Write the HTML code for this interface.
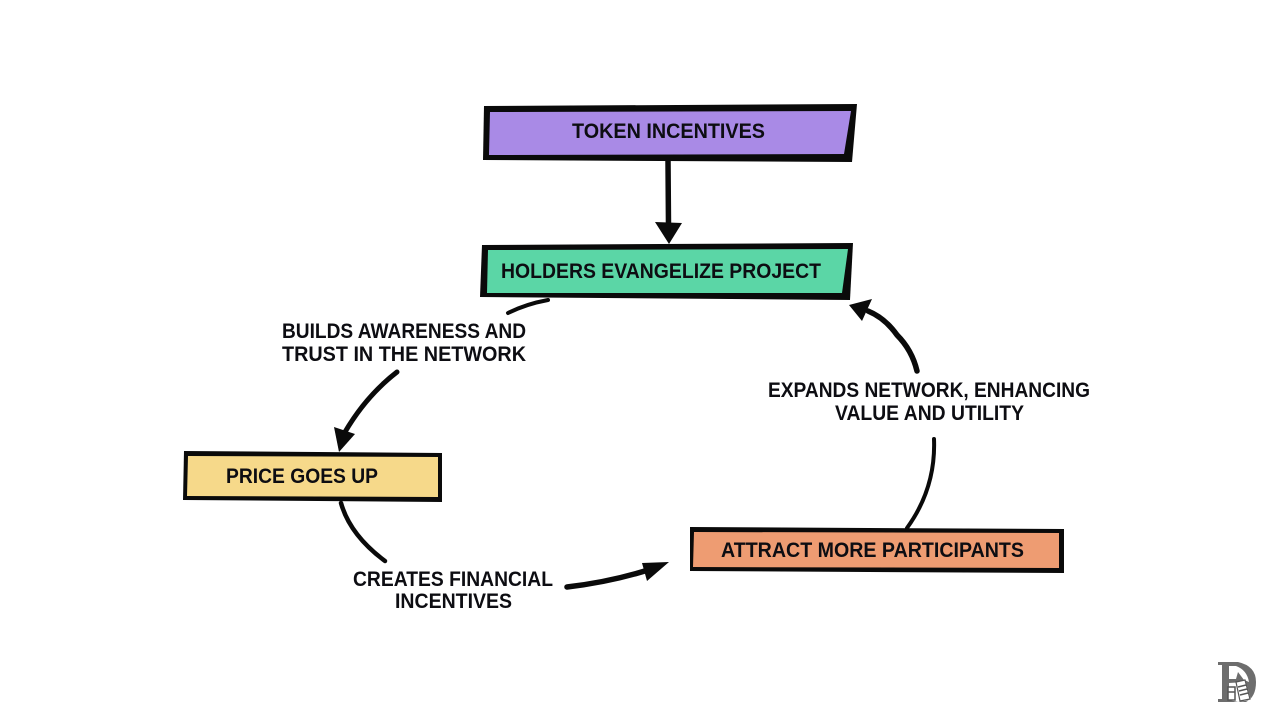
<!DOCTYPE html>
<html>
<head>
<meta charset="utf-8">
<style>
html,body{margin:0;padding:0;background:#fff}
svg{display:block}
text{font-family:"Liberation Sans",sans-serif;font-weight:700;font-size:21px;fill:#0d0d12}
</style>
</head>
<body>
<svg width="1272" height="716" viewBox="0 0 1272 716" xmlns="http://www.w3.org/2000/svg">
<rect width="1272" height="716" fill="#fff"/>
<!-- Boxes -->
<polygon points="484,106 857,104 852,162 483,160" fill="#0a0a0a"/>
<polygon points="490,112 851,111 844,154 489,155" fill="#a98ae6"/>
<polygon points="482,245 853,243 850,300 480,297" fill="#0a0a0a"/>
<polygon points="488,250 848,249 842,293 487,293" fill="#5bd6a6"/>
<polygon points="184,451 442,453 442,502 183,500" fill="#0a0a0a"/>
<polygon points="188,456 438,457 438,497 187,496" fill="#f6d98a"/>
<polygon points="690,527 1064,529 1064,573 690,571" fill="#0a0a0a"/>
<polygon points="694,532 1059,533 1059,568 693,567" fill="#ee9c72"/>
<!-- Connectors -->
<g fill="none" stroke="#0a0a0a" stroke-linecap="round">
<path d="M668 160 L668.500 226" stroke-width="5.500"/>
<path d="M508 313 Q526 304 548 300" stroke-width="4"/>
<path d="M397 372 Q366 396 345 432" stroke-width="5"/>
<path d="M341 503 Q350 535 385 561" stroke-width="4.500"/>
<path d="M567 587 Q610 582 648 570" stroke-width="5.500"/>
<path d="M907 528 Q936 488 934 439" stroke-width="4"/>
<path d="M917 371 Q912 350 897 335 Q885 318 868 311" stroke-width="5.500"/>
</g>
<!-- Arrowheads -->
<g fill="#0a0a0a">
<polygon points="655,222 682,223 669,244"/>
<polygon points="334,427 355,434 339,452"/>
<polygon points="642,563 669,562 647,581"/>
<polygon points="849,305 872,299 862,321"/>
</g>
<!-- Labels -->
<text x="572" y="138" textLength="193" lengthAdjust="spacingAndGlyphs">TOKEN INCENTIVES</text>
<text x="501" y="278" textLength="320" lengthAdjust="spacingAndGlyphs">HOLDERS EVANGELIZE PROJECT</text>
<text x="282" y="338" textLength="244" lengthAdjust="spacingAndGlyphs">BUILDS AWARENESS AND</text>
<text x="282" y="361" textLength="244" lengthAdjust="spacingAndGlyphs">TRUST IN THE NETWORK</text>
<text x="226" y="483" textLength="152" lengthAdjust="spacingAndGlyphs">PRICE GOES UP</text>
<text x="353" y="586" textLength="200" lengthAdjust="spacingAndGlyphs">CREATES FINANCIAL</text>
<text x="395" y="608" textLength="117" lengthAdjust="spacingAndGlyphs">INCENTIVES</text>
<text x="768" y="397" textLength="322" lengthAdjust="spacingAndGlyphs">EXPANDS NETWORK, ENHANCING</text>
<text x="835" y="420" textLength="189" lengthAdjust="spacingAndGlyphs">VALUE AND UTILITY</text>
<text x="721" y="557" textLength="303" lengthAdjust="spacingAndGlyphs">ATTRACT MORE PARTICIPANTS</text>
<!-- Logo -->
<g>
<path d="M1218 662 H1238 Q1256 666 1256 682 Q1256 697 1246 702 H1218 V699 H1222 V665 H1218 Z" fill="#6d6d6d"/>
<path d="M1229 666 H1236 Q1247 670 1249 682 L1244 680 L1238 672 L1236 679 H1229 Z" fill="#fff"/>
<path d="M1229 683 L1246 682 L1251 700 L1238 702 L1229 700 Z" fill="#fff"/>
<path d="M1236 682 L1245 680 L1250 699 L1240 701 Z" fill="#fff" stroke="#555" stroke-width="1.200"/>
<path d="M1238 687 L1246 685 M1239 691 L1247 689 M1240 695 L1248 693" stroke="#555" stroke-width="1.500" fill="none"/>
<path d="M1228 687 H1235 V700 H1228 Z M1228 692 H1235" stroke="#555" stroke-width="1.500" fill="#fff"/>
</g>
</svg>
</body>
</html>
